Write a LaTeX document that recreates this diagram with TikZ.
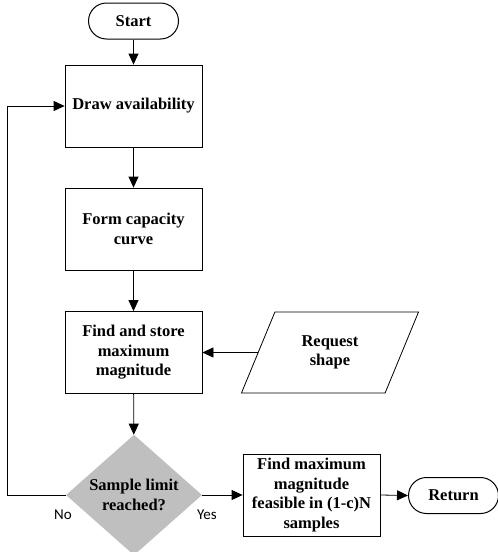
\documentclass[tikz,border=0pt]{standalone}
\usepackage{fontspec}
\setmainfont{Liberation Serif}
\newfontfamily\labelfont{Carlito}
\usetikzlibrary{shapes.geometric, arrows.meta}

\tikzset{
    boxtext/.style={font=\fontsize{16.5}{19.5}\selectfont\bfseries, align=center},
    process/.style={boxtext, draw, line width=0.8pt, minimum width=137pt, minimum height=82pt, inner sep=0pt},
    terminal/.style={boxtext, draw, line width=1pt, rounded corners=18pt, minimum width=90pt, minimum height=36pt, inner sep=0pt},
    decision/.style={boxtext, diamond, fill=gray!50, minimum width=136pt, minimum height=120pt, inner sep=0pt},
    inout/.style={boxtext, draw, line width=0.8pt, trapezium, trapezium left angle=63, trapezium right angle=117,
        trapezium stretches=true, minimum width=178pt, minimum height=81pt, inner sep=0pt},
    arr/.style={line width=0.8pt, -{Triangle[length=11pt, width=10pt]}},
    lbl/.style={font=\labelfont\fontsize{15}{18}\selectfont}
}

\begin{document}
\begin{tikzpicture}[x=1pt, y=-1pt]
    \useasboundingbox (0,0) rectangle (498,552);

    % Main column
    \node[terminal] (start) at (133.5, 21) {Start};
    \node[process] (avail) at (133.5, 106) {Draw availability};
    \node[process] (curve) at (133.5, 229) {Form capacity\\curve};
    \node[process] (store) at (133.5, 352.5) {Find and store\\maximum\\magnitude};
    \node[decision] (limit) at (134, 495) {Sample limit\\reached?};

    % Side input and result
    \node[inout] (request) at (330, 352.5) {Request\\shape};
    \node[process] (result) at (311.5, 495) {Find maximum\\magnitude\\feasible in (1-c)N\\samples};
    \node[terminal] (return) at (453.5, 495.5) {Return};

    \coordinate (loop) at (7, 495);

    % Connectors
    \draw[arr] (start) -- (avail);
    \draw[arr] (avail) -- (curve);
    \draw[arr] (curve) -- (store);
    \draw[arr] (store) -- (limit);
    \draw[arr] (request.west) -- (store.east);
    \draw[arr] (limit.west) -- (loop) |- (avail.west);
    \draw[arr] (limit.east) -- (result.west);
    \draw[arr] (result.east) -- (return.west);

    \node[lbl] (no) at (63, 515) {No};
    \node[lbl] (yes) at (207, 515) {Yes};
\end{tikzpicture}
\end{document}
